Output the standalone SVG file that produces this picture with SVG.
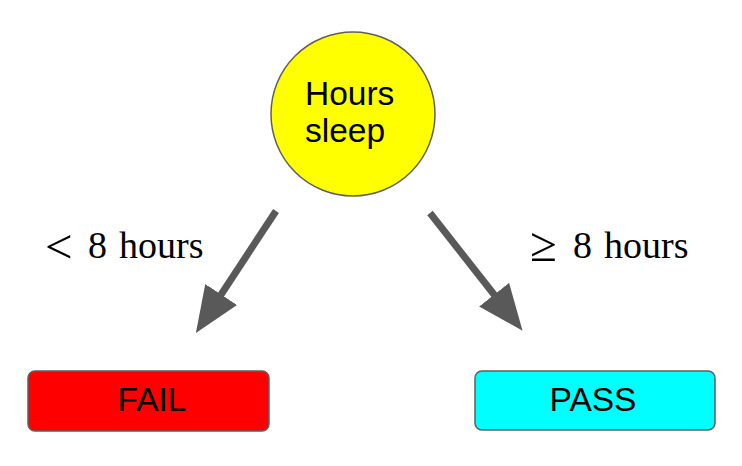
<svg xmlns="http://www.w3.org/2000/svg" width="742" height="466" viewBox="0 0 742 466">
<style>
.node{stroke:#5f5f5f;stroke-width:1.5}
.sans{font-family:"Liberation Sans",Arial,sans-serif;font-size:33.5px;fill:#000}
.serif{font-family:"Liberation Serif","Times New Roman",serif;font-size:38px;fill:#000}
.sym{font-size:49px}
.edge{stroke:#595959;stroke-width:7;fill:none}
</style>
<defs>
<marker id="head" markerUnits="userSpaceOnUse" viewBox="0 0 46 38" refX="3" refY="19" markerWidth="46" markerHeight="38" orient="auto">
<path d="M0,0 L46,19 L0,38 z" fill="#595959"/>
</marker>
</defs>
<rect width="742" height="466" fill="#fff"/>
<g id="connectors">
<path class="edge" d="M276,211 L219.5,297" marker-end="url(#head)"/>
<path class="edge" d="M430,213 L496,297" marker-end="url(#head)"/>
</g>
<g id="hours-sleep">
<circle class="node" cx="353" cy="114" r="82" fill="#ffff00"/>
<text class="sans" x="305" y="105">Hours</text>
<text class="sans" x="305" y="142">sleep</text>
</g>
<g id="fail">
<rect class="node" x="28" y="371" width="241" height="60" rx="7" fill="#ff0000"/>
<text class="sans" x="152" y="411" text-anchor="middle">FAIL</text>
</g>
<g id="pass">
<rect class="node" x="475" y="371" width="240" height="59" rx="7" fill="#00ffff"/>
<text class="sans" x="593" y="411" text-anchor="middle">PASS</text>
</g>
<g id="label-left">
<text class="serif"><tspan class="sym" x="45" y="263">&lt;</tspan><tspan x="88" y="258">8</tspan><tspan x="119" y="258">hours</tspan></text>
</g>
<g id="label-right">
<text class="serif"><tspan class="sym" x="530" y="261">≥</tspan><tspan x="573" y="258">8</tspan><tspan x="604" y="258">hours</tspan></text>
</g>
</svg>
